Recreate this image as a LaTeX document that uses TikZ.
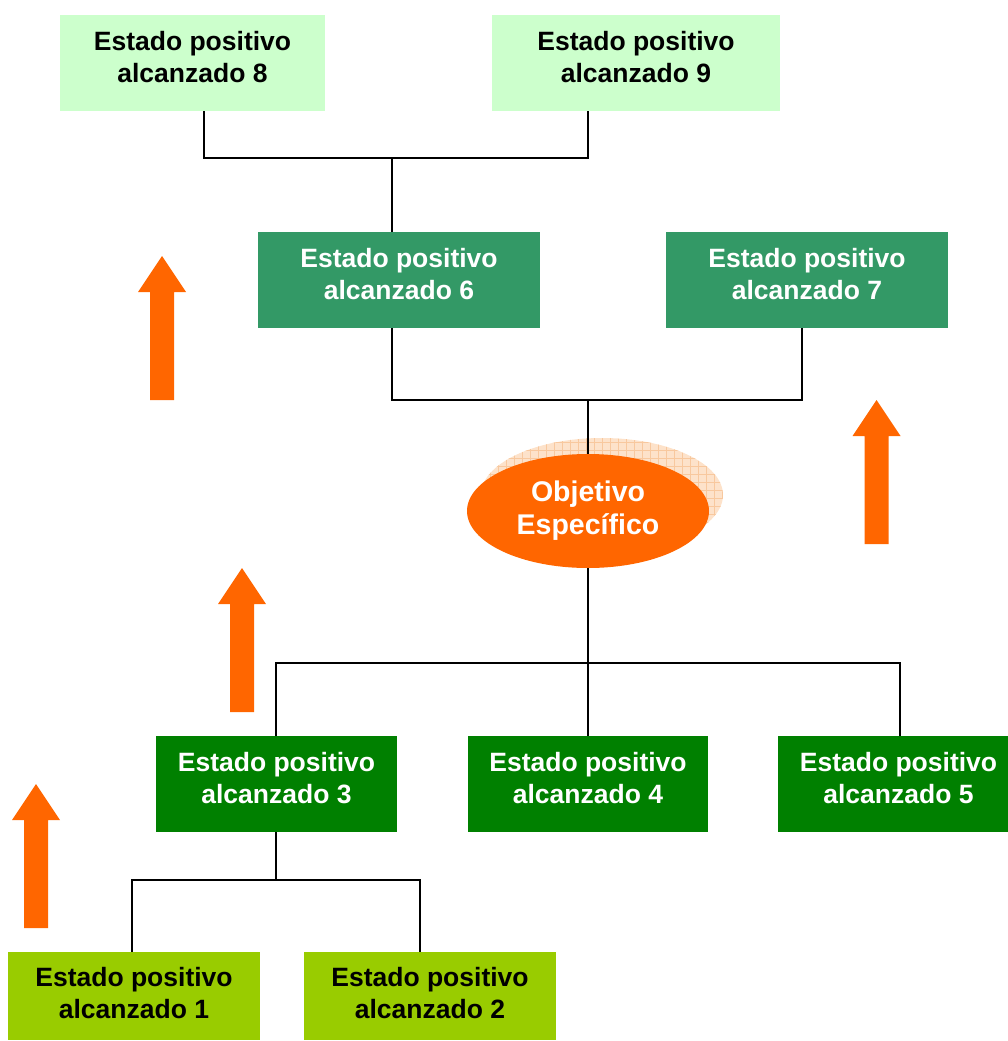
\documentclass[tikz,border=0pt]{standalone}
\usepackage{fontspec}
\setmainfont{Liberation Sans}
\usetikzlibrary{shapes.geometric}
\definecolor{paleGreen}{HTML}{CCFFCC}
\definecolor{seaGreen}{HTML}{339966}
\definecolor{darkGreen}{HTML}{008000}
\definecolor{limeGreen}{HTML}{99CC00}
\definecolor{flame}{HTML}{FF6600}
\definecolor{peach}{HTML}{FDE2CA}
\definecolor{peachGrid}{HTML}{F8C89E}
\begin{document}
\begin{tikzpicture}[x=1pt,y=-1pt,
  statebox/.style={rectangle, inner sep=0pt,
    minimum width=#1, minimum height=96},
  boxtext/.style={align=center, inner sep=0pt, yshift=6pt,
    font=\fontsize{26.5}{31.5}\selectfont\bfseries},
  link/.style={line width=1.6pt, black},
  uparrow/.pic={\fill[flame] (-12,0) -- (-12,-108) -- (-24,-108) -- (0,-144)
     -- (24,-108) -- (12,-108) -- (12,0) -- cycle;}]
\useasboundingbox (0,0) rectangle (1007,1041);

% top row
\node[statebox=265, fill=paleGreen,
  label={[boxtext]center:Estado positivo\\alcanzado 8}] (b8) at (192.5,63) {};
\node[statebox=288, fill=paleGreen,
  label={[boxtext]center:Estado positivo\\alcanzado 9}] (b9) at (636,63) {};
% second row
\node[statebox=282, fill=seaGreen,
  label={[boxtext, text=white]center:Estado positivo\\alcanzado 6}] (b6) at (399,280) {};
\node[statebox=282, fill=seaGreen,
  label={[boxtext, text=white]center:Estado positivo\\alcanzado 7}] (b7) at (807,280) {};
% third row
\node[statebox=241, fill=darkGreen,
  label={[boxtext, text=white]center:Estado positivo\\alcanzado 3}] (b3) at (276.5,784) {};
\node[statebox=240, fill=darkGreen,
  label={[boxtext, text=white]center:Estado positivo\\alcanzado 4}] (b4) at (588,784) {};
\node[statebox=241, fill=darkGreen,
  label={[boxtext, text=white]center:Estado positivo\\alcanzado 5}] (b5) at (898.5,784) {};
% bottom row
\node[statebox=252, fill=limeGreen, minimum height=88,
  label={[boxtext, yshift=-3pt]center:Estado positivo\\alcanzado 1}] (b1) at (134,996) {};
\node[statebox=252, fill=limeGreen, minimum height=88,
  label={[boxtext, yshift=-3pt]center:Estado positivo\\alcanzado 2}] (b2) at (430,996) {};

% checkered shadow of the central ellipse
\begin{scope}
  \clip (602,495) ellipse [x radius=121, y radius=57];
  \fill[peach] (470,430) rectangle (730,560);
  \foreach \gx in {474,482,...,730} \draw[peachGrid, line width=0.6pt] (\gx,430) -- (\gx,560);
  \foreach \gy in {434,442,...,560} \draw[peachGrid, line width=0.6pt] (470,\gy) -- (730,\gy);
\end{scope}

% junction points of the connectors
\coordinate (j89) at (392,158);
\coordinate (j67) at (588,400);
\coordinate (jo) at (588,663);
\coordinate (j12) at (276,880);

% connectors
\draw[link] (204,0 |- b8.south) |- (j89) -| (588,0 |- b9.south);
\draw[link] (j89) -- (j89 |- b6.north);
\draw[link] (j89 |- b6.south) |- (j67) -| (802,0 |- b7.south);

% central objective
\node[ellipse, fill=flame, inner sep=0pt, minimum width=242, minimum height=114,
  align=center, text=white, font=\fontsize{28.5}{33}\selectfont\bfseries]
  (obj) at (588,511) {Objetivo\\Específico};
\draw[link] (j67) -- (obj.north);
\draw[link] (obj.south) -- (jo);
\draw[link] (jo) -| (j12 |- b3.north);
\draw[link] (jo) -| (900,0 |- b5.north);
\draw[link] (jo) -- (b4.north);
\draw[link] (j12 |- b3.south) -- (j12);
\draw[link] (132,0 |- b1.north) |- (j12) -| (420,0 |- b2.north);

% upward arrows
\pic at (162,400) {uparrow};
\pic at (876.5,544) {uparrow};
\pic at (242,712) {uparrow};
\pic at (36,928) {uparrow};
\end{tikzpicture}
\end{document}
